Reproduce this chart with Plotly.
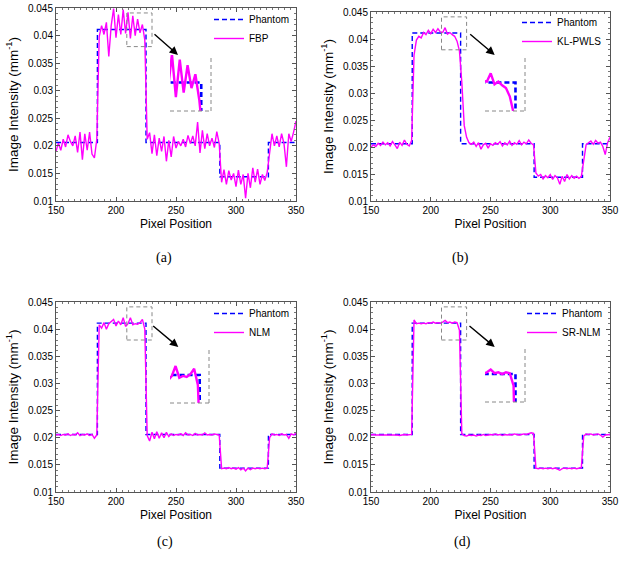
import plotly.graph_objects as go

# ---------------- data ----------------
pixel_x = list(range(150, 351, 2))

phantom_x = [150, 184.5, 225, 286.5, 327, 350]
phantom_y = [0.0206, 0.0411, 0.0206, 0.0144, 0.0206, 0.0206]

fbp = [0.0190, 0.0205, 0.0192, 0.0212, 0.0198, 0.0220, 0.0208, 0.0200, 0.0218, 0.0188,
       0.0225, 0.0175, 0.0222, 0.0192, 0.0225, 0.0185, 0.0178, 0.0212,
       0.0398, 0.0418, 0.0402, 0.0424, 0.0362, 0.0418, 0.0449, 0.0396, 0.0438, 0.0402,
       0.0447, 0.0404, 0.0442, 0.0395, 0.0436, 0.0400, 0.0430, 0.0405, 0.0420, 0.0392,
       0.0212, 0.0224, 0.0186, 0.0220, 0.0182, 0.0214, 0.0190, 0.0217, 0.0172, 0.0210,
       0.0180, 0.0217, 0.0196, 0.0208, 0.0200, 0.0212, 0.0198, 0.0219, 0.0204, 0.0218,
       0.0200, 0.0243, 0.0187, 0.0228, 0.0195, 0.0222, 0.0200, 0.0214, 0.0197, 0.0226,
       0.0204,
       0.0134, 0.0157, 0.0130, 0.0155, 0.0138, 0.0150, 0.0126, 0.0156, 0.0130, 0.0148,
       0.0105, 0.0150, 0.0124, 0.0160, 0.0134, 0.0158, 0.0130, 0.0148, 0.0137, 0.0152,
       0.0190, 0.0222, 0.0200, 0.0218, 0.0198, 0.0222, 0.0204, 0.0162, 0.0222, 0.0208,
       0.0225, 0.0245]

kl_pwls = [0.0200, 0.0204, 0.0201, 0.0207, 0.0203, 0.0209, 0.0204, 0.0208, 0.0202, 0.0210,
           0.0204, 0.0197, 0.0209, 0.0203, 0.0213, 0.0205, 0.0202, 0.0212,
           0.0370, 0.0398, 0.0405, 0.0402, 0.0412, 0.0408, 0.0416, 0.0410, 0.0418, 0.0412,
           0.0419, 0.0413, 0.0412, 0.0421, 0.0409, 0.0412, 0.0408, 0.0405, 0.0396, 0.0378,
           0.0320, 0.0240, 0.0218, 0.0208, 0.0205, 0.0209, 0.0201, 0.0208, 0.0196, 0.0204,
           0.0207, 0.0198, 0.0206, 0.0203, 0.0208, 0.0205, 0.0210, 0.0202, 0.0208, 0.0204,
           0.0211, 0.0203, 0.0208, 0.0205, 0.0212, 0.0204, 0.0209, 0.0206, 0.0213, 0.0207,
           0.0204,
           0.0152, 0.0146, 0.0149, 0.0141, 0.0147, 0.0143, 0.0149, 0.0140, 0.0147, 0.0143,
           0.0131, 0.0146, 0.0136, 0.0149, 0.0141, 0.0147, 0.0142, 0.0146, 0.0142, 0.0145,
           0.0175, 0.0204, 0.0208, 0.0211, 0.0205, 0.0212, 0.0207, 0.0209, 0.0201, 0.0186,
           0.0208, 0.0218]

nlm = [0.0205, 0.0206, 0.0204, 0.0206, 0.0205, 0.0207, 0.0204, 0.0206, 0.0205, 0.0209,
       0.0204, 0.0206, 0.0205, 0.0207, 0.0204, 0.0206, 0.0199, 0.0205,
       0.0408, 0.0402, 0.0412, 0.0400, 0.0410, 0.0414, 0.0418, 0.0406, 0.0415, 0.0408,
       0.0421, 0.0405, 0.0410, 0.0421, 0.0408, 0.0410, 0.0409, 0.0412, 0.0418, 0.0400,
       0.0204, 0.0194, 0.0210, 0.0198, 0.0211, 0.0199, 0.0209, 0.0200, 0.0210, 0.0202,
       0.0207, 0.0204, 0.0206, 0.0205, 0.0207, 0.0204, 0.0209, 0.0205, 0.0206, 0.0204,
       0.0208, 0.0205, 0.0206, 0.0205, 0.0209, 0.0205, 0.0206, 0.0205, 0.0207, 0.0206,
       0.0205,
       0.0143, 0.0144, 0.0143, 0.0145, 0.0143, 0.0144, 0.0142, 0.0145, 0.0141, 0.0144,
       0.0139, 0.0144, 0.0141, 0.0144, 0.0143, 0.0144, 0.0143, 0.0144, 0.0143, 0.0144,
       0.0200, 0.0207, 0.0205, 0.0206, 0.0204, 0.0207, 0.0205, 0.0206, 0.0199, 0.0207,
       0.0205, 0.0208]

sr_nlm = [0.0205, 0.0206, 0.0205, 0.0205, 0.0206, 0.0205, 0.0205, 0.0206, 0.0205, 0.0205,
          0.0206, 0.0205, 0.0204, 0.0205, 0.0206, 0.0205, 0.0205, 0.0206,
          0.0417, 0.0410, 0.0411, 0.0410, 0.0411, 0.0410, 0.0412, 0.0411, 0.0413, 0.0411,
          0.0412, 0.0411, 0.0413, 0.0416, 0.0412, 0.0413, 0.0411, 0.0413, 0.0412, 0.0398,
          0.0207, 0.0204, 0.0203, 0.0205, 0.0204, 0.0205, 0.0203, 0.0205, 0.0204, 0.0206,
          0.0204, 0.0205, 0.0206, 0.0205, 0.0207, 0.0205, 0.0206, 0.0204, 0.0206, 0.0205,
          0.0206, 0.0205, 0.0207, 0.0206, 0.0205, 0.0206, 0.0207, 0.0206, 0.0208, 0.0209,
          0.0208,
          0.0144, 0.0143, 0.0144, 0.0143, 0.0144, 0.0143, 0.0144, 0.0143, 0.0144, 0.0142,
          0.0140, 0.0143, 0.0144, 0.0143, 0.0144, 0.0143, 0.0144, 0.0143, 0.0144, 0.0145,
          0.0203, 0.0207, 0.0206, 0.0207, 0.0205, 0.0206, 0.0207, 0.0205, 0.0201, 0.0205,
          0.0206, 0.0206]

methods = ["FBP", "KL-PWLS", "NLM", "SR-NLM"]
method_values = [fbp, kl_pwls, nlm, sr_nlm]
captions = ["(a)", "(b)", "(c)", "(d)"]

x_ticks = [150, 200, 250, 300, 350]
y_ticks = [0.01, 0.015, 0.02, 0.025, 0.03, 0.035, 0.04, 0.045]
y_tick_labels = ["0.01", "0.015", "0.02", "0.025", "0.03", "0.035", "0.04", "0.045"]

zoom_x = [209, 230]
zoom_y = [0.038, 0.0441]

# ---------------- layout geometry (pixels) ----------------
W, H = 624, 564
def px(x): return x / W
def py(y): return 1 - y / H

main_boxes = [  # left, right, top, bottom in px
    (56, 296, 8, 201),
    (371, 610, 12, 201),
    (56, 296, 302, 492),
    (371, 610, 302, 492),
]
inset_boxes = [
    (170, 211, 55, 111),
    (485, 525, 55, 111),
    (170, 209, 348, 403),
    (485, 525, 347, 402),
]
legend_pos = [(209, 5), (517, 8), (209, 299), (522, 299)]
caption_pos = [(154, 258), (471, 258), (155, 552), (473, 552)]
arrow_head = [(178, 55), (494.7, 55), (178.3, 347), (494.7, 347)]
arrow_tail = [(153, 33), (468.7, 33), (151.7, 324.7), (468, 324.7)]

BLUE = "#0000FF"
MAG = "#FF00FF"
FONT = "Liberation Sans, Arial, sans-serif"

fig = go.Figure()
layout = dict(
    width=W, height=H, margin=dict(l=0, r=0, t=0, b=0, autoexpand=False),
    paper_bgcolor="white", plot_bgcolor="white",
    font=dict(family=FONT, size=10, color="black"),
    shapes=[], annotations=[],
)

for i in range(4):
    n = i + 1
    sfx = "" if n == 1 else str(n)
    m = i + 5
    lg = "legend" if n == 1 else f"legend{n}"
    xa, ya = f"x{sfx}", f"y{sfx}"
    xi, yi = f"x{m}", f"y{m}"

    fig.add_trace(go.Scatter(x=phantom_x, y=phantom_y, mode="lines", line_shape="hv",
                             name="Phantom", legend=lg, xaxis=xa, yaxis=ya,
                             line=dict(color=BLUE, width=1.4, dash="5px,3px")))
    fig.add_trace(go.Scatter(x=pixel_x, y=method_values[i], mode="lines",
                             name=methods[i], legend=lg, xaxis=xa, yaxis=ya,
                             line=dict(color=MAG, width=1.4)))
    # inset
    fig.add_trace(go.Scatter(x=phantom_x, y=phantom_y, mode="lines", line_shape="hv",
                             showlegend=False, xaxis=xi, yaxis=yi,
                             line=dict(color=BLUE, width=2.6, dash="5px,3px")))
    fig.add_trace(go.Scatter(x=pixel_x, y=method_values[i], mode="lines",
                             showlegend=False, xaxis=xi, yaxis=yi,
                             line=dict(color=MAG, width=2.4)))

    l, r, t, b = main_boxes[i]
    axis_common = dict(ticks="inside", ticklen=4, tickcolor="#555", showline=True,
                       linecolor="#555", linewidth=1, mirror="ticks", showgrid=False,
                       zeroline=False, automargin=False, tickfont=dict(size=10, family=FONT))
    layout[f"xaxis{sfx}"] = dict(
        domain=[px(l), px(r)], anchor=ya, range=[150, 350], tickvals=x_ticks,
        minor=dict(ticks="inside", ticklen=2, dtick=5, tickcolor="#777"),
        title=dict(text="Pixel Position", font=dict(size=12, family=FONT), standoff=4),
        **axis_common)
    layout[f"yaxis{sfx}"] = dict(
        domain=[py(b), py(t)], anchor=xa, range=[0.01, 0.045],
        tickvals=y_ticks, ticktext=y_tick_labels,
        minor=dict(ticks="inside", ticklen=2, dtick=0.001, tickcolor="#777"),
        title=dict(text="Image Intensity (mm<sup>-1</sup>)", font=dict(size=13.5, family=FONT), standoff=6),
        **axis_common)

    il, ir, it, ib = inset_boxes[i]
    layout[f"xaxis{m}"] = dict(domain=[px(il), px(ir)], anchor=yi, range=zoom_x,
                               visible=False, showgrid=False, zeroline=False, automargin=False)
    layout[f"yaxis{m}"] = dict(domain=[py(ib), py(it)], anchor=xi, range=zoom_y,
                               visible=False, showgrid=False, zeroline=False, automargin=False)

    dash_line = dict(color="#888", width=1, dash="4px,3px")
    layout["shapes"] += [
        dict(type="rect", xref=xa, yref=ya, x0=zoom_x[0], x1=zoom_x[1],
             y0=zoom_y[0], y1=zoom_y[1], line=dash_line),
        dict(type="line", xref=f"x{m} domain", yref=f"y{m} domain",
             x0=0, x1=1, y0=0, y1=0, line=dash_line),
        dict(type="line", xref=f"x{m} domain", yref=f"y{m} domain",
             x0=1, x1=1, y0=0, y1=1, line=dash_line),
    ]

    hx, hy = arrow_head[i]
    tx, ty = arrow_tail[i]
    layout["annotations"] += [
        dict(x=px(hx), y=py(hy), xref="paper", yref="paper",
             ax=tx - hx, ay=ty - hy, axref="pixel", ayref="pixel",
             showarrow=True, arrowhead=2, arrowsize=1.2, arrowwidth=1.4,
             arrowcolor="black", text=""),
        dict(x=px(caption_pos[i][0]), y=py(caption_pos[i][1]), xref="paper", yref="paper",
             text=captions[i], showarrow=False,
             font=dict(family="Liberation Serif, Times New Roman, serif", size=14, color="black")),
    ]

    lx, ly = legend_pos[i]
    layout[lg] = dict(x=px(lx), y=py(ly), xanchor="left", yanchor="top",
                      bgcolor="rgba(0,0,0,0)", borderwidth=0, tracegroupgap=0,
                      itemwidth=30, font=dict(size=10, family=FONT))

fig.update_layout(**layout)
fig.write_html("out.html", config={"displayModeBar": False},
               post_script="document.body.style.margin='0px';document.body.style.overflow='hidden';")
